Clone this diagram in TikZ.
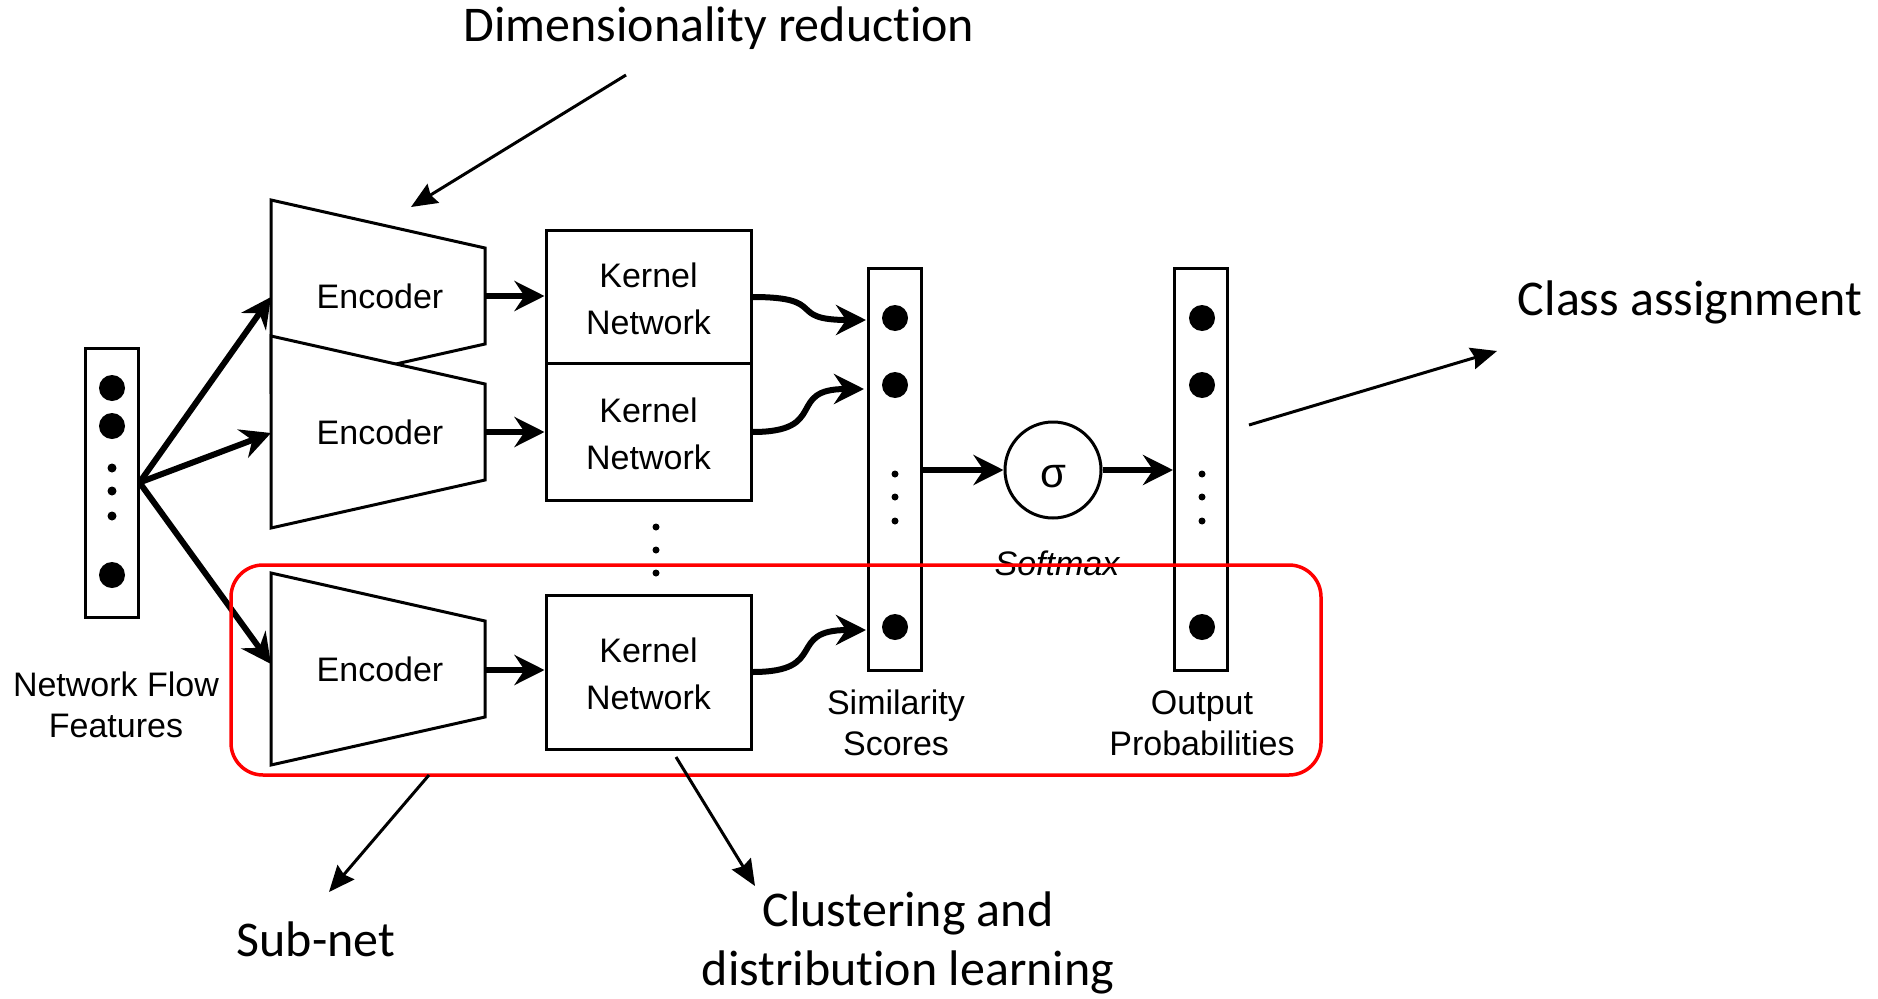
\documentclass[tikz,border=0pt]{standalone}
\usepackage{fontspec}
\newfontfamily\arialf{Liberation Sans}
\newfontfamily\calf{Carlito}[Ligatures=NoCommon]
\usetikzlibrary{arrows.meta}
\begin{document}
\begin{tikzpicture}[x=1pt,y=-1pt,
  box/.style={draw,line width=3pt,fill=white},
  dtxt/.style={font=\arialf\fontsize{34}{47}\selectfont,align=center,inner sep=0pt},
  lbl/.style={font=\arialf\fontsize{34}{41}\selectfont,align=center,inner sep=0pt},
  ann/.style={font=\calf\fontsize{50}{59}\selectfont,align=center,inner sep=0pt},
  flow/.style={line width=6pt,-{Stealth[length=30pt,width=30pt,inset=10pt]}},
  annarrow/.style={line width=3pt,-{Stealth[length=26pt,width=22pt,inset=3pt]}},
  bigdot/.style={circle,fill=black,inner sep=0pt,minimum size=26pt},
  smalldot/.style={circle,fill=black,inner sep=0pt,minimum size=9pt},
  tinydot/.style={circle,fill=black,inner sep=0pt,minimum size=7pt},
  vec/.style={box,inner sep=0pt,minimum width=53pt},
  kbox/.style={box,minimum width=205pt,inner sep=0pt},
]
\useasboundingbox[fill=white] (0,0) rectangle (1878,998);

% feature vector
\node[vec,minimum height=269pt] (fv) at (111.5,482.5) {};
\node[bigdot] (fv1) at (112,388) {};
\node[bigdot] (fv2) at (112,426) {};
\node[smalldot] (fvd1) at (112,468) {};
\node[smalldot] (fvd2) at (112,491) {};
\node[smalldot] (fvd3) at (112,516) {};
\node[bigdot] (fvn) at (112,575) {};
\node[lbl] (fvlbl) at (116,705) {Network Flow\\Features};

% encoders
\draw[box] (271,200) -- (485,248) -- (485,344) -- (271,392) -- cycle;
\draw[box] (271,336) -- (485,384) -- (485,480) -- (271,528) -- cycle;
\draw[box] (271,573) -- (485,621) -- (485,717) -- (271,765) -- cycle;
\node[dtxt] (enc1) at (380,296) {Encoder};
\node[dtxt] (enc2) at (380,432) {Encoder};
\node[dtxt] (enc3) at (380,669) {Encoder};
\coordinate (e1in) at (271,297);
\coordinate (e2in) at (271,433);
\coordinate (e3in) at (271,664);
\coordinate (e1out) at (485,296);
\coordinate (e2out) at (485,432);
\coordinate (e3out) at (485,670);

% kernel networks
\node[kbox,minimum height=133pt] (k1) at (648.5,296.5) {};
\node[kbox,minimum height=137pt] (k2) at (648.5,431.5) {};
\node[kbox,minimum height=154pt] (k3) at (648.5,672) {};
\node[dtxt] (k1t) at (648.5,299) {Kernel\\Network};
\node[dtxt] (k2t) at (648.5,434) {Kernel\\Network};
\node[dtxt] (k3t) at (648.5,674) {Kernel\\Network};
\node[tinydot] (kd1) at (656,527) {};
\node[tinydot] (kd2) at (656,550) {};
\node[tinydot] (kd3) at (656,573) {};

% similarity scores
\node[vec,minimum height=402pt] (sim) at (894.5,469) {};
\node[bigdot] (s1) at (895,318) {};
\node[bigdot] (s2) at (895,385) {};
\node[tinydot] (sd1) at (895,474) {};
\node[tinydot] (sd2) at (895,497) {};
\node[tinydot] (sd3) at (895,521) {};
\node[bigdot] (sn) at (895,627) {};
\node[lbl] (simlbl) at (896,723) {Similarity\\Scores};

% softmax
\node[draw,circle,line width=3pt,minimum size=96pt,inner sep=0pt] (sig) at (1053,470) {};
\node[inner sep=0pt,font=\arialf\fontsize{42}{42}\selectfont] (sigt) at (1053,477) {σ};
\node[inner sep=0pt,font=\arialf\itshape\fontsize{34}{40}\selectfont] (smax) at (1057,563) {Softmax};

% output probabilities
\node[vec,minimum height=402pt] (out) at (1201,469) {};
\node[bigdot] (o1) at (1202,318) {};
\node[bigdot] (o2) at (1202,385) {};
\node[tinydot] (od1) at (1202,474) {};
\node[tinydot] (od2) at (1202,497) {};
\node[tinydot] (od3) at (1202,521) {};
\node[bigdot] (on) at (1202,627) {};
\node[lbl] (outlbl) at (1202,723) {Output\\Probabilities};

% flow arrows
\draw[flow] (fv.east) -- (e1in);
\draw[flow] (fv.east) -- (e2in);
\draw[flow] (fv.east) -- (e3in);
\draw[flow] (e1out) -- (k1.west |- e1out);
\draw[flow] (e2out) -- (k2.west |- e2out);
\draw[flow] (e3out) -- (k3.west |- e3out);
\coordinate (t1) at (866,320);
\coordinate (t2) at (864,389);
\coordinate (t3) at (866,630);
\draw[flow] (k1.east |- 0,297) .. controls (830,297) and (785,320) .. (t1);
\draw[flow] (k2.east |- 0,432) .. controls (830,432) and (785,389) .. (t2);
\draw[flow] (k3.east |- 0,672) .. controls (830,672) and (785,630) .. (t3);
\draw[flow] (sim.east |- sig.west) -- (sig.west);
\draw[flow] (sig.east) -- (out.west |- sig.east);

% red sub-net frame
\node[draw=red,line width=3.5pt,rounded corners=32pt,minimum width=1090pt,minimum height=210pt,inner sep=0pt] (subnet) at (776,670) {};

% annotations
\node[ann] (dimred) at (719,28) {Dimensionality reduction};
\node[ann] (classas) at (1690,302) {Class assignment};
\node[ann] (subnetlbl) at (316,939) {Sub-net};
\node[ann] (cluster) at (908,943) {Clustering and\\distribution learning};
\coordinate (a1s) at (626,75);
\coordinate (a1e) at (411,207);
\coordinate (a2s) at (1249,425);
\coordinate (a2e) at (1497,351);
\coordinate (a3s) at (429,775);
\coordinate (a3e) at (329,892);
\coordinate (a4s) at (676,757);
\coordinate (a4e) at (755,886);
\draw[annarrow] (a1s) -- (a1e);
\draw[annarrow] (a2s) -- (a2e);
\draw[annarrow] (a3s) -- (a3e);
\draw[annarrow] (a4s) -- (a4e);
\end{tikzpicture}
\end{document}
